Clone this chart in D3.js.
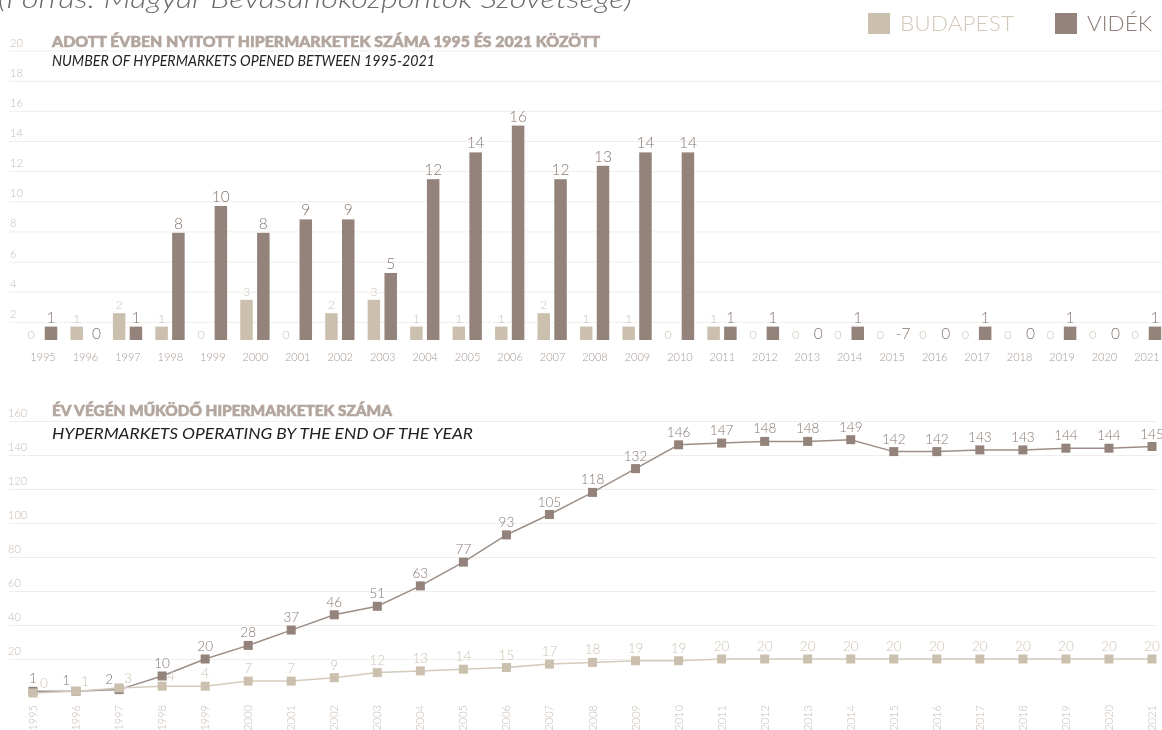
<!DOCTYPE html>
<html>
<head>
<meta charset="utf-8">
<script src="https://cdn.jsdelivr.net/npm/d3@7"></script>
<style>
  html, body { margin: 0; padding: 0; background: #ffffff; }
  svg { display: block; font-family: Lato, "Open Sans", sans-serif; will-change: transform; }
</style>
</head>
<body>
<svg id="chart" width="1162" height="730"></svg>
<script>
// Yearly openings (top panel) and stock at year end (bottom panel)
const years = d3.range(1995, 2022).map(String);
const openedBudapest = [0, 1, 2, 1, 0, 3, 0, 2, 3, 1, 1, 1, 2, 1, 1, 0, 1, 0, 0, 0, 0, 0, 0, 0, 0, 0, 0];
const openedVidek    = [1, 0, 1, 8, 10, 8, 9, 9, 5, 12, 14, 16, 12, 13, 14, 14, 1, 1, 0, 1, -7, 0, 1, 0, 1, 0, 1];
const operatingBudapest = [0, 1, 3, 4, 4, 7, 7, 9, 12, 13, 14, 15, 17, 18, 19, 19, 20, 20, 20, 20, 20, 20, 20, 20, 20, 20, 20];
const operatingVidek    = [1, 1, 2, 10, 20, 28, 37, 46, 51, 63, 77, 93, 105, 118, 132, 146, 147, 148, 148, 149, 142, 142, 143, 143, 144, 144, 145];
const topTicks = [2, 4, 6, 8, 10, 12, 14, 16, 18, 20];
const bottomTicks = [20, 40, 60, 80, 100, 120, 140, 160];
const seriesNames = ["BUDAPEST", "VIDÉK"];

const colBud = "#cbc0ad", colVid = "#93837b";
const colBudText = "#cdc3b4", colVidText = "#85776f";
const gridCol = "#efeeec", tickCol = "#c6bbb3";
const titleCol = "#b3a69e";

const svg = d3.select("#chart");

// ---- source line (runs off the top edge) ----
svg.append("text")
  .attr("x", -2).attr("y", 8)
  .attr("font-size", 25).attr("font-style", "italic").attr("font-weight", 300)
  .attr("fill", "#6a6a6a")
  .attr("textLength", 634).attr("lengthAdjust", "spacingAndGlyphs")
  .text("(Forrás: Magyar Bevásárlóközpontok Szövetsége)");

// ---- legend ----
const legend = svg.append("g");
const legendItems = [
  {name: seriesNames[0], x: 868, fill: colBud, text: "#d3c9bb", w: 114},
  {name: seriesNames[1], x: 1055, fill: colVid, text: "#8c7e77", w: 65}
];
legendItems.forEach(d => {
  legend.append("rect").attr("x", d.x).attr("y", 13).attr("width", 22).attr("height", 21).attr("fill", d.fill);
  legend.append("text").attr("x", d.x + 32).attr("y", 31)
    .attr("font-size", 22).attr("font-weight", 300).attr("fill", d.text)
    .attr("textLength", d.w).attr("lengthAdjust", "spacingAndGlyphs")
    .text(d.name);
});

// ---- top panel: openings per year ----
const topG = svg.append("g");
const yTopGrid = d3.scaleLinear().domain([0, 20]).range([352, 50.6]);
const yBar = d3.scaleLinear().domain([0, 16]).range([340, 125.6]);
const xTop = d3.scaleBand().domain(years).range([21.77, 1168.2]);
const xSub = d3.scaleBand().domain(["bud", "vid"]).range([6.2, 35.5]).paddingInner(0.256);

topG.selectAll("line.grid").data(topTicks).join("line")
  .attr("x1", 9).attr("x2", 1162)
  .attr("y1", d => yTopGrid(d) + 0.5).attr("y2", d => yTopGrid(d) + 0.5)
  .attr("stroke", gridCol).attr("stroke-width", 1);
topG.selectAll("text.tick").data(topTicks).join("text")
  .attr("x", 10).attr("y", d => yTopGrid(d) - 4)
  .attr("font-size", 11).attr("font-weight", 300).attr("fill", tickCol)
  .text(d => d);

// titles (bold headings get a thin same-colour outline for extra weight)
svg.append("text").attr("x", 52).attr("y", 47)
  .attr("font-size", 15.5).attr("font-weight", 900).attr("fill", titleCol)
  .attr("stroke", titleCol).attr("stroke-width", 0.6)
  .attr("textLength", 548).attr("lengthAdjust", "spacingAndGlyphs")
  .text("ADOTT ÉVBEN NYITOTT HIPERMARKETEK SZÁMA 1995 ÉS 2021 KÖZÖTT");
svg.append("text").attr("x", 52).attr("y", 66)
  .attr("font-size", 15).attr("font-style", "italic").attr("fill", "#222")
  .attr("textLength", 383).attr("lengthAdjust", "spacingAndGlyphs")
  .text("NUMBER OF HYPERMARKETS OPENED BETWEEN 1995-2021");

const barRows = years.map((y, i) => [
  {year: y, key: "bud", v: openedBudapest[i]},
  {year: y, key: "vid", v: openedVidek[i]}
]).flat();

topG.selectAll("rect.bar").data(barRows.filter(d => d.v > 0)).join("rect")
  .attr("x", d => xTop(d.year) + xSub(d.key))
  .attr("width", xSub.bandwidth())
  .attr("y", d => yBar(d.v))
  .attr("height", d => yBar(0) - yBar(d.v))
  .attr("fill", d => d.key === "bud" ? colBud : colVid);

topG.selectAll("text.val").data(barRows).join("text")
  .attr("x", d => xTop(d.year) + xSub(d.key) + xSub.bandwidth() / 2 + (d.v > 0 ? 0 : (d.key === "bud" ? -3 : 3)))
  .attr("y", d => d.v > 0 ? yBar(d.v) - 4 : yBar(0) - 1)
  .attr("text-anchor", "middle")
  .attr("font-size", d => d.key === "bud" ? 12.5 : 15.5)
  .attr("font-weight", 300)
  .attr("fill", d => d.key === "bud" ? colBudText : colVidText)
  .text(d => d.v);

topG.selectAll("text.year").data(years).join("text")
  .attr("x", d => xTop(d) + xTop.bandwidth() / 2)
  .attr("y", 361)
  .attr("text-anchor", "middle")
  .attr("font-size", 11).attr("font-weight", 300).attr("fill", "#a59a93")
  .text(d => d);

// ---- bottom panel: hypermarkets operating at year end ----
const botG = svg.append("g");
const yBot = d3.scaleLinear().domain([0, 160]).range([693, 421]);
const xBot = d3.scalePoint().domain(years).range([33, 1152]);

botG.selectAll("line.grid").data(bottomTicks).join("line")
  .attr("x1", 9).attr("x2", 1157)
  .attr("y1", d => yBot(d) + 0.5).attr("y2", d => yBot(d) + 0.5)
  .attr("stroke", gridCol).attr("stroke-width", 1);
botG.selectAll("text.tick").data(bottomTicks).join("text")
  .attr("x", 8).attr("y", d => yBot(d) - 4)
  .attr("font-size", 11).attr("font-weight", 300).attr("fill", tickCol)
  .text(d => d);

svg.append("text").attr("x", 52).attr("y", 416)
  .attr("font-size", 15.5).attr("font-weight", 900).attr("fill", titleCol)
  .attr("stroke", titleCol).attr("stroke-width", 0.6)
  .attr("textLength", 340).attr("lengthAdjust", "spacingAndGlyphs")
  .text("ÉV VÉGÉN MŰKÖDŐ HIPERMARKETEK SZÁMA");
svg.append("text").attr("x", 52).attr("y", 439)
  .attr("font-size", 16).attr("font-style", "italic").attr("fill", "#222")
  .attr("textLength", 421).attr("lengthAdjust", "spacingAndGlyphs")
  .text("HYPERMARKETS OPERATING BY THE END OF THE YEAR");

const line = d3.line().x(d => xBot(d.year)).y(d => yBot(d.v));
const vidPts = years.map((y, i) => ({i, year: y, v: operatingVidek[i], other: operatingBudapest[i]}));
const budPts = years.map((y, i) => ({i, year: y, v: operatingBudapest[i], other: operatingVidek[i]}));

// Where the two series nearly touch, the Vidék label moves left of its
// marker and the Budapest label moves right of its marker.
function labelPlacement(d, side) {
  const diff = Math.abs(d.v - d.other);
  if (side > 0 && diff <= 6) return {dx: d.i === 0 ? 7 : 5, dy: -5, anchor: "start"};
  if (side < 0 && diff < 6 && d.i > 0) return {dx: -6, dy: -6, anchor: "end"};
  return {dx: 0, dy: -8, anchor: "middle"};
}

function drawSeries(pts, stroke, fill, textFill, side) {
  botG.append("path").datum(pts).attr("d", line)
    .attr("fill", "none").attr("stroke", stroke).attr("stroke-width", 1.5);
  botG.selectAll(null).data(pts).join("rect")
    .attr("x", d => xBot(d.year) - 4.5).attr("y", d => yBot(d.v) - 4.5)
    .attr("width", 9).attr("height", 9).attr("fill", fill);
  botG.selectAll(null).data(pts).join("text")
    .attr("x", d => xBot(d.year) + labelPlacement(d, side).dx)
    .attr("y", d => yBot(d.v) + labelPlacement(d, side).dy)
    .attr("text-anchor", d => labelPlacement(d, side).anchor)
    .attr("font-size", 13.5).attr("font-weight", 300).attr("fill", textFill)
    .text(d => d.v);
}
drawSeries(vidPts, "#9c8e87", colVid, colVidText, -1);
drawSeries(budPts, "#d4cbbd", colBud, colBudText, 1);

botG.selectAll("text.year").data(years).join("text")
  .attr("transform", d => `translate(${xBot(d) + 4},705) rotate(-90)`)
  .attr("text-anchor", "end")
  .attr("font-size", 11).attr("font-weight", 300).attr("fill", "#c4b9b1")
  .text(d => d);
</script>
</body>
</html>
